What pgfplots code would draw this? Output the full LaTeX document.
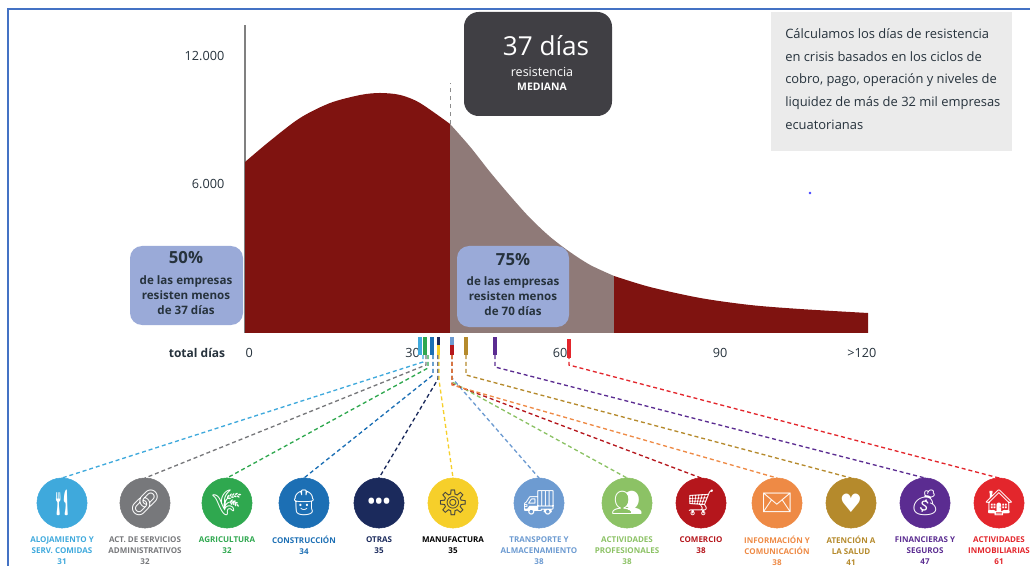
\documentclass[border=0pt]{standalone}
\usepackage{pgfplots}
\pgfplotsset{compat=1.18}
\usepackage{fontspec}
\setmainfont{Open Sans}
\newfontfamily\emoji{Noto Emoji}
\newfontfamily\dejavu{DejaVu Sans}
\definecolor{dkred}{HTML}{7F1310}
\definecolor{grbr}{HTML}{8F7A78}
\definecolor{pill}{HTML}{9AAAD8}
\definecolor{ink}{HTML}{26323C}
\definecolor{cA}{HTML}{3FA9DC}
\definecolor{cB}{HTML}{77787B}
\definecolor{cC}{HTML}{2FA84F}
\definecolor{cD}{HTML}{1C6FB4}
\definecolor{cE}{HTML}{1B2A5C}
\definecolor{cF}{HTML}{F6CF2A}
\definecolor{cG}{HTML}{6D9BD1}
\definecolor{cH}{HTML}{8CC265}
\definecolor{cI}{HTML}{B5161C}
\definecolor{cJ}{HTML}{EE8A45}
\definecolor{cK}{HTML}{B58A2C}
\definecolor{cL}{HTML}{5B2C91}
\definecolor{cM}{HTML}{E3262C}
% #1 colour, #2 tick x, #3 bend y, #4 circle x, #5 glyph, #6 label (with \\), #7 text colour
\newcommand\sector[7]{%
  \addplot[#1,line width=1pt,dash pattern=on 3pt off 2.2pt] coordinates {(#2,355)(#2,#3)(#4,478)};
  \addplot[only marks,mark=*,mark size=18.8pt,mark options={fill=#1,draw=#1}] coordinates {(#4,503)};
  \node[text=white,font=\fontsize{19}{19}\selectfont] at (axis cs:#4,503) {#5};
  \node[anchor=north,align=center,text=#7,inner sep=0pt,font=\fontsize{6}{8.3}\selectfont\bfseries] at (axis cs:#4,536) {#6};
}
\begin{document}
\begin{tikzpicture}[x=1pt,y=1pt]
\useasboundingbox (0,0) rectangle (772.5,424.5);
\clip (0,0) rectangle (772.5,424.5);
\begin{axis}[
  at={(183.75pt,174.75pt)},anchor=south west,
  scale only axis,width=467.25pt,height=231pt,
  xmin=0,xmax=120,ymin=-984,ymax=13453,
  axis lines=left,axis line style={-},
  x axis line style={draw=none},
  y axis line style={draw=black!50,line width=1.4pt},
  clip=false,
  scaled y ticks=false,
  xtick={0.8,32.3,60.7,91.5,118.8},xticklabels={0,30,60,90,{>120}},
  ytick={6000,12000},yticklabels={6.000,12.000},
  major tick length=0pt,
  tick label style={font=\fontsize{9.5}{11}\selectfont,text=ink},
  xticklabel style={yshift=-8pt},
  yticklabel style={xshift=-12pt},
]
\addplot[fill=dkred,draw=none,smooth] coordinates {(0,7031)(4.8,8016)(10.6,9094)(16.4,9797)(22.2,10172)(26,10266)(29.9,10172)(33.7,9797)(39.5,8812)} -- (axis cs:39.5,-984) -- (axis cs:0,-984) -- cycle;
\addplot[fill=grbr,draw=none,smooth] coordinates {(39.5,8812)(43.4,7734)(47.2,6562)(51.1,5437)(54.9,4406)(58.8,3516)(62.6,2812)(66.5,2203)(71.1,1687)} -- (axis cs:71.1,-984) -- (axis cs:39.5,-984) -- cycle;
\addplot[fill=dkred,draw=none,smooth] coordinates {(71.1,1687)(78,1172)(87.7,656)(97.3,328)(106.9,141)(120,-47)} -- (axis cs:120,-984) -- (axis cs:71.1,-984) -- cycle;
\addplot[black!45,line width=.8pt,dash pattern=on 3pt off 3pt] coordinates {(39.5,8812)(39.5,10734)};
\end{axis}
\begin{axis}[
  at={(0pt,0pt)},anchor=south west,
  scale only axis,width=772.5pt,height=424.5pt,
  xmin=0,xmax=1030,ymin=0,ymax=566,y dir=reverse,
  hide axis,clip=false,clip mode=individual,
]
% frame
\addplot[color={rgb,255:red,68;green,114;blue,196},line width=1.2pt] coordinates {(8,566)(8,9)(1030,9)};
\addplot[only marks,mark=*,mark size=.8pt,blue!70] coordinates {(810,193)};
% boxes
\node[fill={rgb,255:red,64;green,63;blue,68},rounded corners=11pt,minimum width=111pt,minimum height=78pt,inner sep=0pt] at (axis cs:538,64) {};
\node[text=white,font=\fontsize{19.6}{21}\selectfont] at (axis cs:546,46) {37 días};
\node[text=white,font=\fontsize{9.4}{10}\selectfont] at (axis cs:542,72) {resistencia};
\node[text=white,font=\fontsize{7.8}{9}\selectfont\bfseries] at (axis cs:542,87) {MEDIANA};
\node[fill=black!8,minimum width=180.75pt,minimum height=104.25pt,inner sep=0pt] at (axis cs:891.5,81.5) {};
\node[anchor=west,align=left,inner sep=0pt,text=ink,font=\fontsize{9.7}{17}\selectfont] at (axis cs:785,79) {Cálculamos los días de resistencia\\en crisis basados en los ciclos de\\cobro, pago, operación y niveles de\\liquidez de más de 32 mil empresas\\ecuatorianas};
\node[fill=pill,rounded corners=9pt,minimum width=84.75pt,minimum height=59.25pt,inner sep=0pt] at (axis cs:186.5,285.5) {};
\node[text=ink,font=\fontsize{12.5}{14}\selectfont\bfseries] at (axis cs:186,258) {50\%};
\node[text=ink,align=center,font=\fontsize{8.7}{11.2}\selectfont\bfseries] at (axis cs:186,295) {de las empresas\\resisten menos\\de 37 días};
\node[fill=pill,rounded corners=9pt,minimum width=84pt,minimum height=60.75pt,inner sep=0pt] at (axis cs:513,286.5) {};
\node[text=ink,font=\fontsize{12.5}{14}\selectfont\bfseries] at (axis cs:513,260) {75\%};
\node[text=ink,align=center,font=\fontsize{8.7}{11.2}\selectfont\bfseries] at (axis cs:513,296) {de las empresas\\resisten menos\\de 70 días};
\node[text=ink,font=\fontsize{9}{11}\selectfont\bfseries] at (axis cs:197,353) {total días};
% sector connectors, circles and labels
\sector{cA}{423}{362}{62}{\emoji 🍴}{ALOJAMIENTO Y\\SERV. COMIDAS\\31}{cA}
\sector{cB}{426}{365}{145}{\emoji 🔗}{ACT. DE SERVICIOS\\ADMINISTRATIVOS\\32}{cB}
\sector{cC}{428}{368}{227}{\emoji 🌾}{AGRICULTURA\\32}{cC}
\sector{cD}{433}{375}{304}{\emoji 👷}{CONSTRUCCIÓN\\34}{cD}
\sector{cE}{438}{379}{379}{\bfseries\fontsize{15}{15}\selectfont •••}{OTRAS\\35}{cE}
\sector{cF}{439}{380}{453}{\color{black!75}\emoji ⚙}{MANUFACTURA\\35}{black}
\sector{cG}{452}{378}{539}{\emoji 🚚}{TRANSPORTE Y\\ALMACENAMIENTO\\38}{cG}
\sector{cH}{452}{382}{627}{\emoji 👥}{ACTIVIDADES\\PROFESIONALES\\38}{cH}
\sector{cI}{452}{384}{701}{\emoji 🛒}{COMERCIO\\38}{cI}
\sector{cJ}{452}{385}{777}{\emoji ✉}{INFORMACIÓN Y\\COMUNICACIÓN\\38}{cJ}
\sector{cK}{466}{375}{851}{\dejavu ♥}{ATENCIÓN A\\LA SALUD\\41}{cK}
\sector{cL}{495}{367}{925}{\emoji 💰}{FINANCIERAS Y\\SEGUROS\\47}{cL}
\sector{cM}{569}{365}{999}{\emoji 🏠}{ACTIVIDADES\\INMOBILIARIAS\\61}{cM}
% sector ticks on the days axis
\addplot[cA,line width=2.4pt] coordinates {(420,337)(420,355)};
\addplot[cC,line width=2.4pt] coordinates {(425,337)(425,355)};
\addplot[cD,line width=2.4pt] coordinates {(432,337)(432,355)};
\addplot[cE,line width=2.4pt] coordinates {(438.5,337)(438.5,345)};
\addplot[cF,line width=2.4pt] coordinates {(438.5,345)(438.5,355)};
\addplot[cG,line width=2.4pt] coordinates {(452,337)(452,345)};
\addplot[cI,line width=2.4pt] coordinates {(452,345)(452,355)};
\addplot[cK,line width=2.4pt] coordinates {(466,337)(466,355)};
\addplot[cL,line width=2.4pt] coordinates {(495,337)(495,355)};
\addplot[cM,line width=2.4pt] coordinates {(569,339)(569,358)};
\end{axis}
\end{tikzpicture}
\end{document}
